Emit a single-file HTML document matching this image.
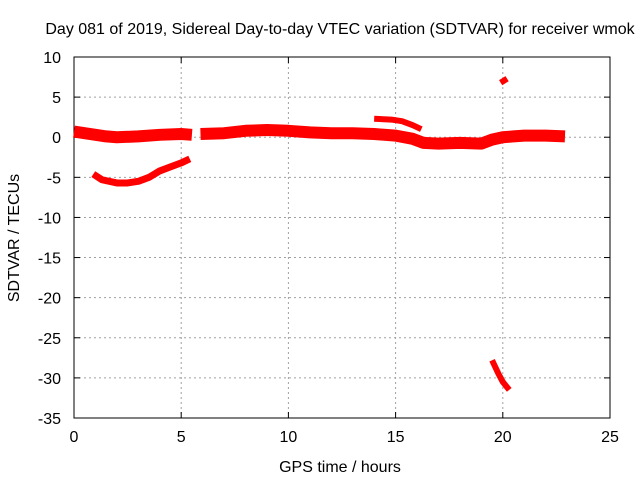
<!DOCTYPE html>
<html><head><meta charset="utf-8"><style>
body{margin:0;background:#fff}
svg{font-family:"Liberation Sans",sans-serif;font-size:16px}
</style></head><body>
<svg id="c" width="640" height="480"></svg>
<script>
const xTicks=[0,5,10,15,20,25];
const yTicks=[10,5,0,-5,-10,-15,-20,-25,-30,-35];
const mainBand=[[0,0.7],[0.5,0.5],[1,0.3],[1.5,0.1],[2,0.0],[3,0.1],[4,0.3],[5,0.4],[5.5,0.3]];
const mainBand2=[[5.9,0.4],[7,0.5],[8,0.8],[9,0.9],[10,0.8],[11,0.6],[12,0.5],[13,0.5],[14,0.4],[15,0.2],[15.8,-0.2],[16.3,-0.7],[17,-0.8],[18,-0.7],[19,-0.8],[19.5,-0.3],[20,0],[20.5,0.1],[21,0.2],[22,0.2],[22.9,0.1]];
const lowerArc=[[0.9,-4.6],[1.3,-5.3],[2,-5.7],[2.5,-5.7],[3,-5.5],[3.5,-5.0],[4,-4.2],[4.5,-3.7],[5,-3.2],[5.4,-2.7]];
const upperSeg=[[14,2.3],[14.8,2.2],[15.3,2.0],[15.8,1.5],[16.2,1.0]];
const steepSeg=[[19.5,-27.8],[19.8,-29.5],[20,-30.5],[20.3,-31.5]];
const spikeSeg=[[19.9,6.8],[20.2,7.3]];
const L=74,R=610,T=57,B=418,xMin=0,xMax=25,yMin=-35,yMax=10;
const X=v=>L+(v-xMin)/(xMax-xMin)*(R-L);
const Y=v=>B-(v-yMin)/(yMax-yMin)*(B-T);
const svg=document.getElementById('c');
const NS='http://www.w3.org/2000/svg';
function mk(t,a,p){const e=document.createElementNS(NS,t);for(const k in a)e.setAttribute(k,a[k]);(p||svg).appendChild(e);return e;}
xTicks.forEach(v=>{
 if(v>0&&v<25){const g=mk('line',{x1:X(v),x2:X(v),y1:T,y2:B,stroke:'#a0a0a0','stroke-dasharray':'2,3'});
 
 }
 const t=mk('text',{x:X(v),y:B+24,'text-anchor':'middle'});t.textContent=v;
 
 
 mk('line',{x1:X(v),x2:X(v),y1:B,y2:B-6,stroke:'#000'});
 mk('line',{x1:X(v),x2:X(v),y1:T,y2:T+6,stroke:'#000'});
});
yTicks.forEach(v=>{
 if(v<10&&v>-35){const g=mk('line',{x1:L,x2:R,y1:Y(v),y2:Y(v),stroke:'#a0a0a0','stroke-dasharray':'2,3'});
 
 }
 const t=mk('text',{x:L-13,y:Y(v)+6,'text-anchor':'end'});t.textContent=v;
 
 
 mk('line',{x1:L,x2:L+6,y1:Y(v),y2:Y(v),stroke:'#000'});
 mk('line',{x1:R,x2:R-6,y1:Y(v),y2:Y(v),stroke:'#000'});
});
const f=mk('rect',{x:L,y:T,width:R-L,height:B-T,fill:'none',stroke:'#000'});


function series(d,w,name){
 const p=mk('polyline',{points:d.map(q=>X(q[0])+','+Y(q[1])).join(' '),fill:'none',stroke:'#f00','stroke-width':w,'stroke-linejoin':'round','stroke-linecap':'butt'});
 
 
}
series(mainBand,12,'main-band-series');
series(mainBand2,12,'main-band-series-2');
series(lowerArc,7,'lower-arc-series');
series(upperSeg,6,'upper-segment-series');
series(steepSeg,6,'steep-drop-series');
series(spikeSeg,6,'spike-series');
let t=mk('text',{x:340,y:34,'text-anchor':'middle'});t.textContent='Day 081 of 2019, Sidereal Day-to-day VTEC variation (SDTVAR) for receiver wmok';


t=mk('text',{x:340,y:472,'text-anchor':'middle'});t.textContent='GPS time / hours';


t=mk('text',{x:0,y:0,'text-anchor':'middle',transform:'translate(19,238) rotate(-90)'});t.textContent='SDTVAR / TECUs';


</script>
</body></html>
